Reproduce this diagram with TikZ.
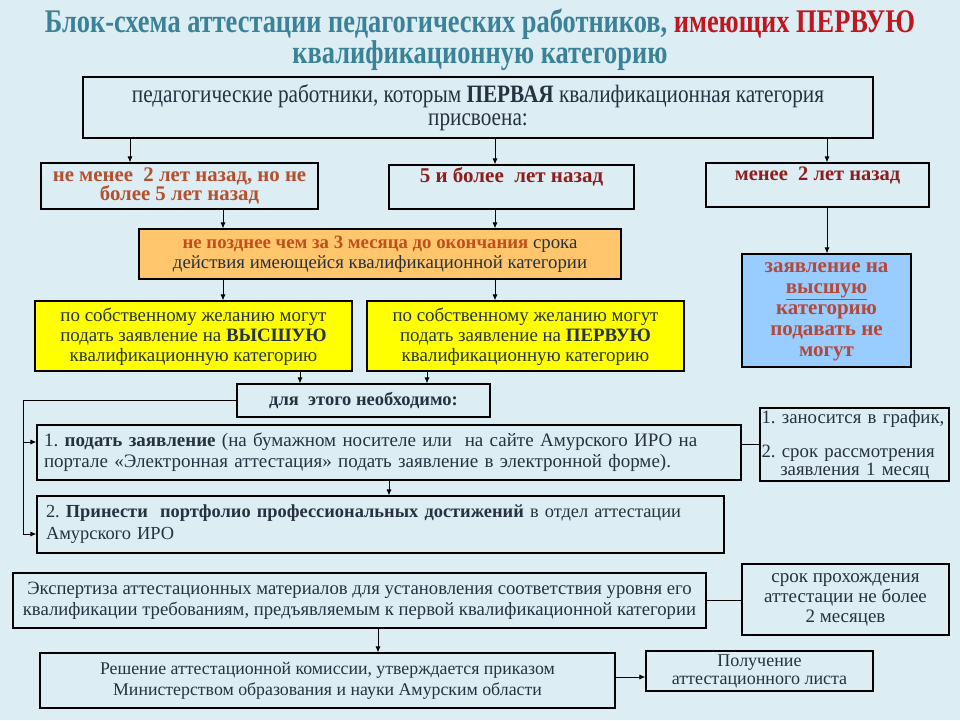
\documentclass[tikz,border=0pt]{standalone}
\usepackage{fontspec}
\setmainfont{Liberation Serif}
\newfontfamily\narrowfont[FakeStretch=0.85]{Liberation Serif}
\newfontfamily\titlefont[FakeStretch=0.8]{Liberation Serif}
\usetikzlibrary{arrows.meta}
\frenchspacing
\definecolor{PageBlue}{HTML}{DCEDF4}
\definecolor{TitleTeal}{HTML}{3C8296}
\definecolor{TitleRed}{HTML}{C0161E}
\definecolor{InkDark}{HTML}{26323F}
\definecolor{BrickRed}{HTML}{B4502D}
\definecolor{DeepRed}{HTML}{8E1E1E}
\definecolor{TermOrange}{HTML}{FFC66E}
\definecolor{TermText}{HTML}{C0501A}
\definecolor{WishYellow}{HTML}{FFFF00}
\definecolor{BanBlue}{HTML}{99CCFF}
\definecolor{BanText}{HTML}{B24A3C}

\begin{document}
\begin{tikzpicture}[x=1pt,y=-1pt,
  box/.style={draw=black,line width=1.1pt,inner sep=2pt,align=center,text=InkDark},
  link/.style={-{Latex[length=6pt,width=5pt]},line width=0.9pt},
  tie/.style={line width=0.9pt}]
\fill[PageBlue] (0,0) rectangle (960,720);
\useasboundingbox (0,0) rectangle (960,720);

\node[align=center,text=TitleTeal,font=\titlefont\bfseries\fontsize{33}{26}\selectfont] (title) at (480,40) {Блок-схема аттестации педагогических работников, \textcolor{TitleRed}{имеющих ПЕРВУЮ}\\квалификационную категорию};

\node[box,minimum width=790pt,minimum height=61pt,font=\narrowfont\fontsize{25}{23.5}\selectfont] (staff) at (478,107.5) {педагогические работники, которым \textbf{ПЕРВАЯ} квалификационная категория\\присвоена:};

% three branches
\node[box,minimum width=277pt,minimum height=46pt,text=BrickRed,font=\bfseries\fontsize{20.8}{18}\selectfont] (twofive) at (179.5,186) {не менее~ 2 лет назад, но не\\более 5 лет назад};
\node[box,minimum width=245pt,minimum height=44pt,text height=14pt,text depth=24pt,text=DeepRed,font=\bfseries\fontsize{21}{18}\selectfont] (fiveplus) at (511.5,187) {5 и более~ лет назад};
\node[box,minimum width=223pt,minimum height=44pt,text height=14pt,text depth=24pt,text=DeepRed,font=\bfseries\fontsize{20.5}{18}\selectfont] (undertwo) at (817.5,185) {менее~ 2 лет назад};

\node[box,fill=TermOrange,minimum width=482pt,minimum height=50pt,font=\fontsize{18.8}{20}\selectfont] (deadline) at (380,254) {\textcolor{TermText}{\textbf{не позднее чем за 3 месяца до окончания}} срока\\действия имеющейся квалификационной категории};

\node[box,fill=WishYellow,minimum width=317pt,minimum height=70pt,text depth=3pt,font=\fontsize{18.9}{20}\selectfont] (higher) at (193.5,336) {по собственному желанию могут\\подать заявление на \textbf{ВЫСШУЮ}\\квалификационную категорию};
\node[box,fill=WishYellow,minimum width=317pt,minimum height=70pt,text depth=3pt,font=\fontsize{18.9}{20}\selectfont] (first) at (525.5,336) {по собственному желанию могут\\подать заявление на \textbf{ПЕРВУЮ}\\квалификационную категорию};

\node[box,fill=BanBlue,minimum width=169pt,minimum height=113pt,text depth=2pt,font=\bfseries\fontsize{21}{21}\selectfont,text=BanText] (noapply) at (826.5,310.5) {заявление на\\\underline{высшую}\\категорию\\подавать не\\могут};

% steps
\node[box,minimum width=253pt,minimum height=33pt,font=\bfseries\fontsize{18.5}{17}\selectfont] (needed) at (363.5,400.5) {для~ этого необходимо:};
\node[box,minimum width=704pt,minimum height=55pt,align=left,text width=690pt,inner xsep=7pt,font=\fontsize{19}{21}\selectfont] (apply) at (389,452.5) {1. \textbf{подать заявление} (на бумажном носителе или~ на сайте Амурского ИРО на\\портале «Электронная аттестация» подать заявление в электронной форме).};
\node[box,minimum width=189pt,minimum height=73pt,align=left,text width=186pt,inner xsep=1.5pt,font=\fontsize{18.8}{16}\selectfont] (schedule) at (854.5,444.5) {1. заносится в график,\\[17pt]2. срок рассмотрения\\\hspace*{1em}заявления 1 месяц};
\node[box,minimum width=687pt,minimum height=57pt,align=left,text width=669pt,inner xsep=9pt,font=\fontsize{18.4}{22}\selectfont] (portfolio) at (380.5,524.5) {2. \textbf{Принести~ портфолио профессиональных достижений} в отдел аттестации\\Амурского ИРО};

\node[box,minimum width=693pt,minimum height=55pt,font=\fontsize{18.7}{21}\selectfont] (expertise) at (359.5,600.5) {Экспертиза аттестационных материалов для установления соответствия уровня его\\квалификации требованиям, предъявляемым к первой квалификационной категории};
\node[box,minimum width=207pt,minimum height=71pt,font=\fontsize{19}{20}\selectfont] (period) at (845.5,599.5) {срок прохождения\\аттестации не более\\2 месяцев};
\node[box,minimum width=575pt,minimum height=55pt,font=\fontsize{17.8}{21}\selectfont] (decision) at (327.5,680.5) {Решение аттестационной комиссии, утверждается приказом\\Министерством образования и науки Амурским области};
\node[box,minimum width=227pt,minimum height=40pt,font=\fontsize{18}{18}\selectfont] (sheet) at (759.5,671) {Получение\\аттестационного листа};

% connectors
\draw[link] ([xshift=-49.5pt]twofive.north |- staff.south) -- ([xshift=-49.5pt]twofive.north);
\draw[link] ([xshift=-16.5pt]fiveplus.north |- staff.south) -- ([xshift=-16.5pt]fiveplus.north);
\draw[link] ([xshift=9.5pt]undertwo.north |- staff.south) -- ([xshift=9.5pt]undertwo.north);
\draw[link] ([xshift=43.5pt]twofive.south) -- ([xshift=43.5pt]twofive.south |- deadline.north);
\draw[link] ([xshift=-16.5pt]fiveplus.south) -- ([xshift=-16.5pt]fiveplus.south |- deadline.north);
\draw[link] ([xshift=43.5pt]twofive.south |- deadline.south) -- ([xshift=43.5pt]twofive.south |- higher.north);
\draw[link] ([xshift=-16.5pt]fiveplus.south |- deadline.south) -- ([xshift=-16.5pt]fiveplus.south |- first.north);
\draw[link] ([xshift=9.5pt]undertwo.south) -- ([xshift=9.5pt]undertwo.south |- noapply.north);
\draw[link] ([xshift=106.5pt]higher.south) -- ([xshift=106.5pt]higher.south |- needed.north);
\draw[link] ([xshift=-98.5pt]first.south) -- ([xshift=-98.5pt]first.south |- needed.north);

\coordinate (rail) at (23,400.5);
\draw[link] (needed.west) -- (rail) |- ([yshift=-9.5pt]portfolio.west);
\draw[link] ([yshift=10.5pt]apply.west -| rail) -- ([yshift=10.5pt]apply.west);
\draw[link] (apply.south) -- (apply.south |- portfolio.north);
\draw[tie] (schedule.west) -- (schedule.west -| apply.east);

\draw[tie] (expertise.east) -- (expertise.east -| period.west);
\draw[link] ([xshift=18.5pt]expertise.south) -- ([xshift=18.5pt]expertise.south |- decision.north);
\draw[link] ([yshift=3.5pt]decision.east) -- ([yshift=3.5pt]decision.east -| sheet.west);
\end{tikzpicture}
\end{document}
